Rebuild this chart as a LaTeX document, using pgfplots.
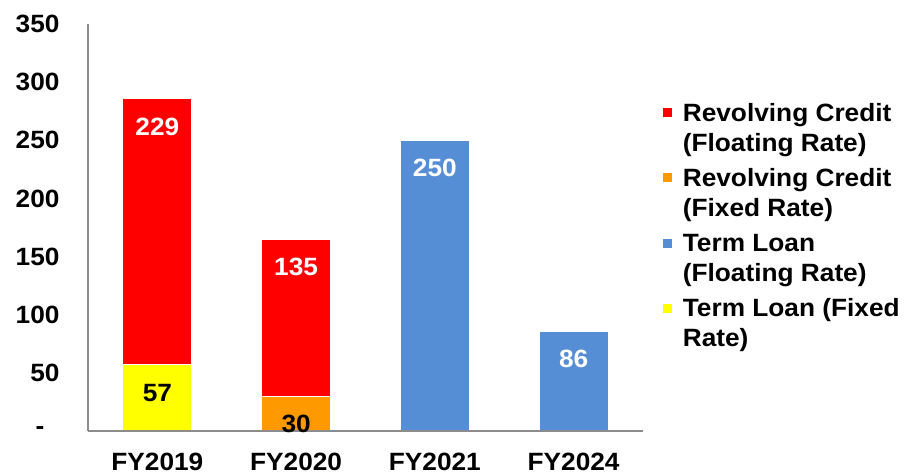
\documentclass[border=0pt]{standalone}
\usepackage{pgfplots}
\pgfplotsset{compat=1.18}
\usepackage{fontspec}
\setmainfont{Liberation Sans}[FakeStretch=1.05]
\definecolor{cRed}{HTML}{FF0000}
\definecolor{cOrange}{HTML}{FF9900}
\definecolor{cBlue}{HTML}{558ED5}
\definecolor{cYellow}{HTML}{FFFF00}
\definecolor{cAxis}{HTML}{8C8C8C}
\newcommand{\bigfont}{\fontsize{25}{30}\selectfont\bfseries}
\begin{document}
\begin{tikzpicture}
\path[use as bounding box] (-88pt,-43pt) rectangle (817pt,431pt);
\begin{axis}[
  scale only axis,
  width=555pt, height=407pt,
  ybar stacked,
  bar width=0.5,
  xmin=-0.5, xmax=3.5,
  ymin=0, ymax=350,
  axis lines*=left,
  axis line style={cAxis, line width=1.5pt, -},
  axis on top,
  xtick={0,1,2,3},
  xticklabels={FY2019,FY2020,FY2021,FY2024},
  ytick={0,50,100,150,200,250,300,350},
  yticklabels={{-\kern15pt},50,100,150,200,250,300,350},
  major tick length=0pt,
  /pgf/number format/assume math mode=true,
  every tick label/.append style={font=\bigfont, text=black},
  xticklabel style={anchor=base, yshift=-39pt},
  yticklabel style={xshift=-25pt},
  point meta=explicit symbolic,
  visualization depends on={rawy \as \rawy},
  nodes near coords,
  every node near coord/.append style={font=\bigfont, anchor=center, yshift=\rawy*0.58143pt-28pt},
  legend style={draw=none, fill=none, at={(rel axis cs:1.03,0.818)}, anchor=north west,
    font=\bigfont, row sep=27.5pt, nodes={inner sep=0pt}},
  legend cell align=left,
  legend image code/.code={\fill[#1] (0pt,2pt) rectangle (9pt,11pt); \path (20pt,0pt);},
]
\addlegendimage{fill=cRed, draw=none}
\addlegendentry{\begin{tabular}{@{}l@{}}Revolving Credit\\(Floating Rate)\end{tabular}}
\addlegendimage{fill=cOrange, draw=none}
\addlegendentry{\begin{tabular}{@{}l@{}}Revolving Credit\\(Fixed Rate)\end{tabular}}
\addlegendimage{fill=cBlue, draw=none}
\addlegendentry{\begin{tabular}{@{}l@{}}Term Loan\\(Floating Rate)\end{tabular}}
\addlegendimage{fill=cYellow, draw=none}
\addlegendentry{\begin{tabular}{@{}l@{}}Term Loan (Fixed\\Rate)\end{tabular}}

% Term Loan (Fixed Rate)
\addplot+[forget plot, fill=cYellow, draw=white, line width=1.2pt, nodes near coords style={text=black}]
  coordinates {(0,57)[57] (1,0)[] (2,0)[] (3,0)[]};
% Revolving Credit (Fixed Rate)
\addplot+[forget plot, fill=cOrange, draw=white, line width=1.2pt, nodes near coords style={text=black}]
  coordinates {(0,0)[] (1,30)[30] (2,0)[] (3,0)[]};
% Term Loan (Floating Rate)
\addplot+[forget plot, fill=cBlue, draw=white, line width=1.2pt, nodes near coords style={text=white}]
  coordinates {(0,0)[] (1,0)[] (2,250)[250] (3,86)[86]};
% Revolving Credit (Floating Rate)
\addplot+[forget plot, fill=cRed, draw=white, line width=1.2pt, nodes near coords style={text=white}]
  coordinates {(0,229)[229] (1,135)[135] (2,0)[] (3,0)[]};
\end{axis}
\end{tikzpicture}
\end{document}
